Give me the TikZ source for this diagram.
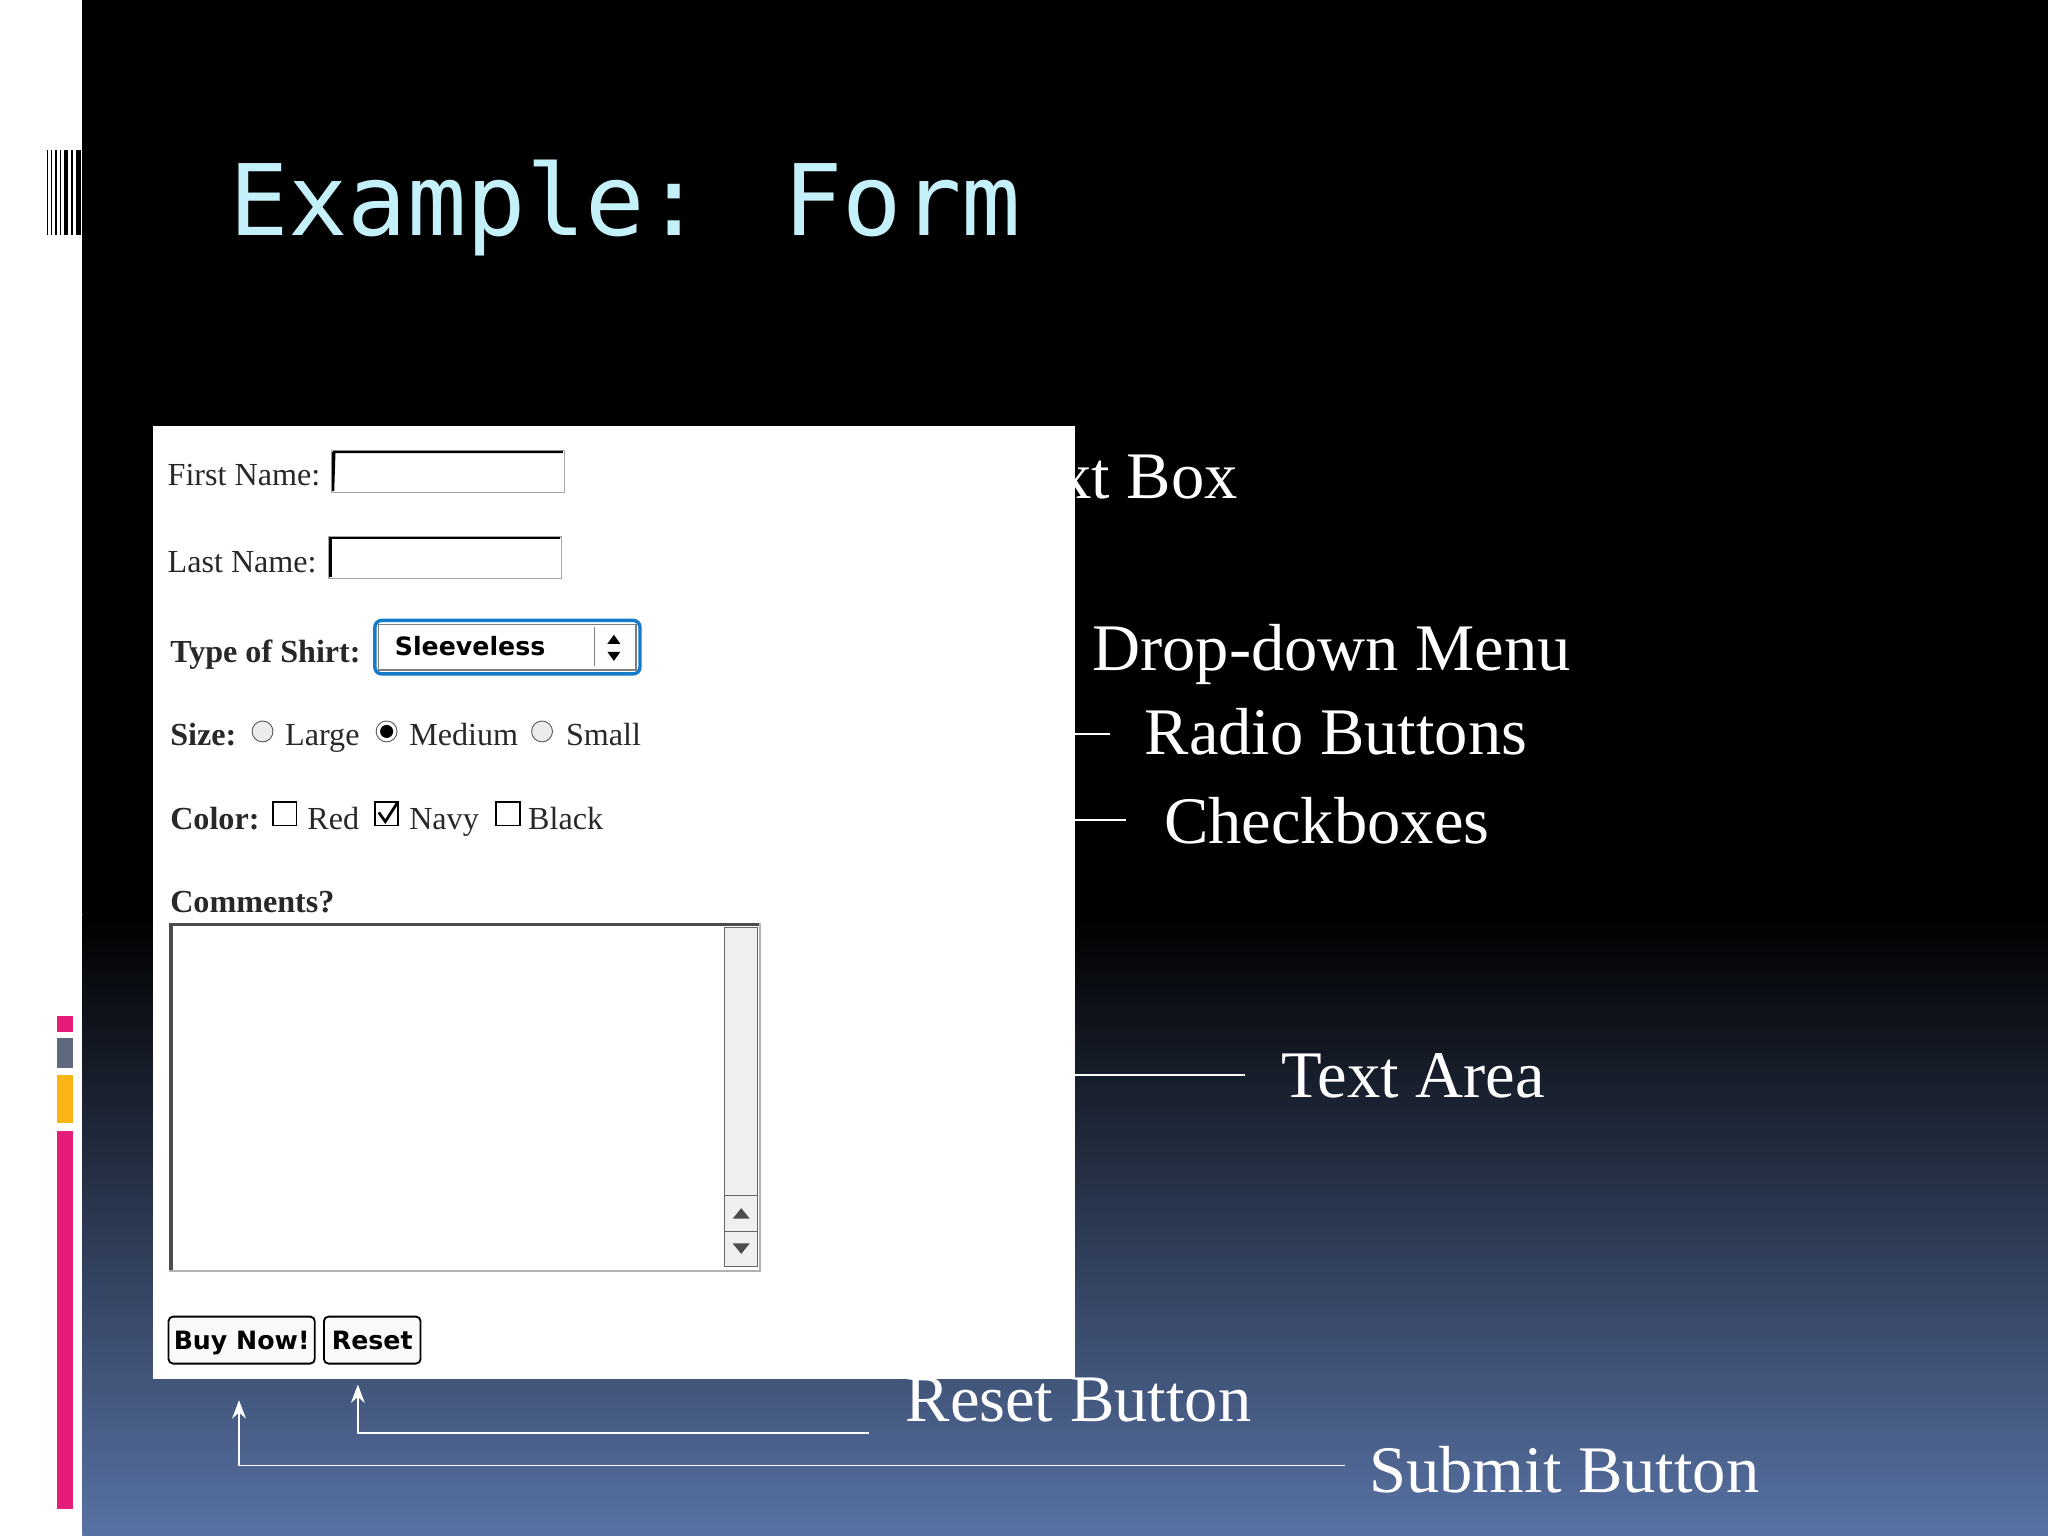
\documentclass[tikz,border=0pt]{standalone}
\usepackage{fontspec}
\setmainfont{Liberation Serif}
\newfontfamily\monof{DejaVu Sans Mono}
\newfontfamily\sansf{DejaVu Sans}
\usetikzlibrary{arrows.meta}
\definecolor{titlec}{RGB}{196,240,250}
\definecolor{botblue}{RGB}{88,114,164}
\definecolor{pinkc}{RGB}{228,30,120}
\definecolor{grayc}{RGB}{95,105,125}
\definecolor{orangec}{RGB}{250,180,20}
\definecolor{formtxt}{RGB}{40,40,40}
\begin{document}
\begin{tikzpicture}[x=0.02cm,y=-0.02cm,
  lab/.style={text=white,font=\fontsize{29}{34}\selectfont,anchor=base west,inner sep=0},
  ftxt/.style={text=formtxt,font=\fontsize{14}{16}\selectfont,anchor=base west,inner sep=0},
  fbold/.style={ftxt,font=\fontsize{14}{16}\selectfont\bfseries},
  field/.style={draw=gray!70,line width=0.6pt},
  wline/.style={draw=white,line width=0.8pt},
  btn/.style={draw=black,rounded corners=2pt,line width=0.8pt,fill=gray!5}]
\useasboundingbox (0,0) rectangle (1568,1176);
\fill[white] (0,0) rectangle (63,1176);
\fill[black] (63,0) rectangle (1568,700);
\shade[top color=black,bottom color=botblue] (63,700) rectangle (1568,1176);
% barcode
\foreach \x/\w in {36/1,39/1,42/2,46/1,49/3,54/2,58/4}{\fill[black] (\x,115) rectangle (\x+\w,180);}
\fill[pinkc] (44,778) rectangle (56,790);
\fill[grayc] (44,795) rectangle (56,818);
\fill[orangec] (44,823) rectangle (56,860);
\fill[pinkc] (44,866) rectangle (56,1155);
% title
\node[text=titlec,font=\monof\fontsize{43}{50}\selectfont,anchor=base west,inner sep=0] (title) at (175,180) {Example: Form};
% labels
\node[lab,anchor=base east] (tb) at (948,382) {Text Box};
\node[lab] (dd) at (836,513) {Drop-down Menu};
\node[lab] (rb) at (876,578) {Radio Buttons};
\node[lab] (cb) at (891,646) {Checkboxes};
\node[lab] (ta) at (981,840) {Text Area};
\node[lab] (rs) at (693,1088) {Reset Button};
\node[lab] (sb) at (1048,1143) {Submit Button};
\coordinate (r1) at (823,562); \coordinate (r2) at (850,562);
\coordinate (c1) at (823,628); \coordinate (c2) at (862,628);
\coordinate (t1) at (823,823); \coordinate (t2) at (953,823);
\draw[wline] (r1)--(r2); \draw[wline] (c1)--(c2); \draw[wline] (t1)--(t2);
\coordinate (s0) at (1030,1122); \coordinate (s1) at (183,1072);
\coordinate (q0) at (665,1097); \coordinate (q1) at (274,1060);
\draw[wline,-{Stealth[length=8pt,width=6pt]}] (s0) -| (s1);
\draw[wline,-{Stealth[length=8pt,width=6pt]}] (q0) -| (q1);
% form
\fill[white] (117,326) rectangle (823,1056);
\node[ftxt] (fn) at (128,372) {First Name:};
\draw[field] (254,345) rectangle (432,377); \draw[black,line width=1pt] (255,346)--(255,376)--(256,346)--(431,346);
\node[ftxt] (ln) at (128,438) {Last Name:};
\draw[field] (252,411) rectangle (430,443); \draw[black,line width=1pt] (253,442)--(253,412)--(429,412);
\node[fbold] (ts) at (130,507) {Type of Shirt:};
\draw[draw=cyan!60!blue,line width=1.5pt,rounded corners=3pt,fill=white] (287,475) rectangle (490,516);
\draw[gray,line width=0.6pt] (290,478) rectangle (487,513);
\draw[gray] (455,480)--(455,510);
\node[anchor=base west,inner sep=0,font=\sansf\bfseries\fontsize{11}{13}\selectfont] (sl) at (302,502) {Sleeveless};
\fill[black] (465,493)--(475,493)--(470,486)--cycle;
\fill[black] (465,499)--(475,499)--(470,506)--cycle;
\node[fbold] (sz) at (130,571) {Size:};
\foreach \x in {201,415}{\draw[gray!70!black,fill=gray!15] (\x,560) circle (8);}
\draw[gray!70!black,fill=white] (296,560) circle (8); \fill[black] (296,560) circle (5);
\node[ftxt] (lg) at (218,571) {Large};
\node[ftxt] (md) at (313,571) {Medium};
\node[ftxt] (sm) at (433,571) {Small};
\node[fbold] (co) at (130,635) {Color:};
\foreach \x in {209,287,380}{\draw[black,fill=white,line width=0.8pt] (\x,614) rectangle (\x+18,632);}
\draw[black,line width=1.2pt] (290,622)--(295,629)--(304,615);
\node[ftxt] (rd) at (235,635) {Red};
\node[ftxt] (nv) at (313,635) {Navy};
\node[ftxt] (bk) at (404,635) {Black};
\node[fbold] (cm) at (130,699) {Comments?};
\draw[gray!60,line width=0.8pt] (130,707) rectangle (582,973);
\draw[black!70,line width=1.5pt] (131,972)--(131,708)--(581,708);
\draw[gray!80!black,fill=gray!12] (555,710) rectangle (580,970);
\draw[gray!80!black] (555,915)--(580,915) (555,943)--(580,943);
\fill[gray!60!black] (561,933)--(574,933)--(567.5,925)--cycle;
\fill[gray!60!black] (561,952)--(574,952)--(567.5,960)--cycle;
\draw[btn] (129,1008) rectangle (241,1044);
\node[anchor=base,inner sep=0,font=\sansf\bfseries\fontsize{11}{13}\selectfont] (buy) at (185,1033) {Buy Now!};
\draw[btn] (248,1008) rectangle (322,1044);
\node[anchor=base,inner sep=0,font=\sansf\bfseries\fontsize{11}{13}\selectfont] (rst) at (285,1033) {Reset};
\end{tikzpicture}
\end{document}
